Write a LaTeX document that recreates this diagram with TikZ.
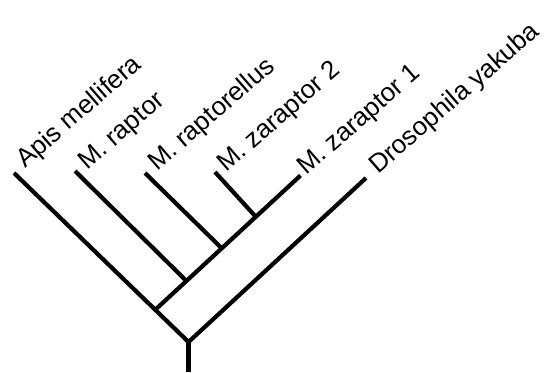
\documentclass[tikz,border=0pt]{standalone}
\usepackage{fontspec}
\setmainfont{Liberation Sans}
\begin{document}
\begin{tikzpicture}[x=1bp,y=-1bp,
  branch/.style={line width=4.2bp,line cap=butt,line join=miter},
  taxon/.style={anchor=base west,inner sep=0pt,rotate=41,font=\fontsize{26bp}{30bp}\selectfont}]
\useasboundingbox (0,0) rectangle (545,372);
% tips and internal nodes
\coordinate (base) at (188.5,372);
\coordinate (fork) at (188.5,342);
\coordinate (apis) at (14,173);
\coordinate (dros) at (366,178);
\coordinate (n1) at (155,310);
\coordinate (zar1) at (300.5,175.5);
\coordinate (n2) at (186.5,281);
\coordinate (rap) at (75,171);
\coordinate (n3) at (221.5,248);
\coordinate (rapl) at (145,173);
\coordinate (n4) at (256,217);
\coordinate (zar2) at (215,172);
% branches
\draw[branch] (apis) -- (fork) -- (dros);
\draw[branch] (fork) -- (base);
\draw[branch] (n1) -- (zar1);
\draw[branch] (rap) -- (n2);
\draw[branch] (rapl) -- (n3);
\draw[branch] (zar2) -- (n4);
% labels
\node[taxon] (lapis) at (25,169) {Apis mellifera};
\node[taxon] (lrap) at (87,171) {M. raptor};
\node[taxon] (lrapl) at (157,172) {M. raptorellus};
\node[taxon] (lzar2) at (226,173) {M. zaraptor 2};
\node[taxon] (lzar1) at (306,176) {M. zaraptor 1};
\node[taxon] (ldros) at (378,175) {Drosophila yakuba};
\end{tikzpicture}
\end{document}
